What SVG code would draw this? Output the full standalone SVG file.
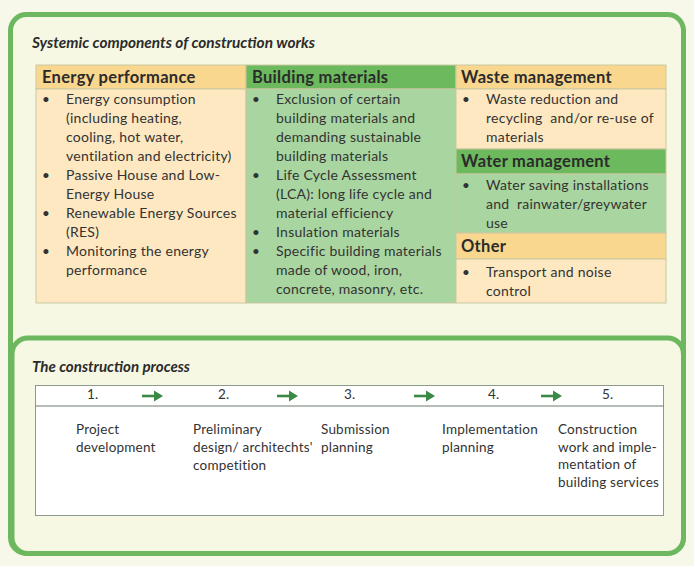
<svg xmlns="http://www.w3.org/2000/svg" width="694" height="566" viewBox="0 0 694 566">
<defs>
<style>
.frame{fill:#f6f8e4;stroke:#6db85f;stroke-width:5}
.title{font-family:Lato,"Open Sans",sans-serif;font-style:italic;font-weight:bold;font-size:15px;fill:#2b2b2b}
.hd{font-family:Lato,"Open Sans",sans-serif;font-weight:bold;font-size:16.5px;letter-spacing:0.3px;fill:#2b2b2b}
.tx{font-family:Lato,"Open Sans",sans-serif;font-size:14px;letter-spacing:0.25px;fill:#333}
.bu{font-family:Lato,"Open Sans",sans-serif;font-size:13.5px;fill:#333}
.oh{fill:#f9d78e}
.ob{fill:#fde8c1}
.gh{fill:#6cb95e}
.gb{fill:#a9d5a0}
.cell{stroke:#c9c7a0;stroke-width:1}
.ptx{font-family:Lato,"Open Sans",sans-serif;font-size:13.5px;letter-spacing:0.2px;fill:#333}
.arr{stroke:#3a8a45;stroke-width:2.6;fill:none}
.arrh{fill:#3a8a45}
.pre{white-space:pre}
</style>
</defs>
<rect width="694" height="566" fill="#f7f8ea"/>
<rect class="frame" x="10.5" y="14.5" width="673" height="539" rx="16"/>
<rect class="frame" x="12" y="338" width="671.5" height="215.5" rx="16"/>

<text class="title" x="32" y="48" textLength="283" lengthAdjust="spacingAndGlyphs">Systemic components of construction works</text>

<g id="energy">
<rect class="oh cell" x="36" y="65" width="210" height="24"/>
<rect class="ob cell" x="36" y="89" width="210" height="214"/>
<text class="hd" x="42" y="83">Energy performance</text>
<g class="bu"><text x="42" y="104">•</text><text x="42" y="180">•</text><text x="42" y="218">•</text><text x="42" y="256">•</text></g>
<g class="tx">
<text x="66" y="104">Energy consumption</text>
<text x="66" y="123">(including heating,</text>
<text x="66" y="142">cooling, hot water,</text>
<text x="66" y="161">ventilation and electricity)</text>
<text x="66" y="180">Passive House and Low-</text>
<text x="66" y="199">Energy House</text>
<text x="66" y="218">Renewable Energy Sources</text>
<text x="66" y="237">(RES)</text>
<text x="66" y="256">Monitoring the energy</text>
<text x="66" y="275">performance</text>
</g>
</g>

<g id="materials">
<rect class="gh cell" x="246" y="65" width="210" height="24"/>
<rect class="gb cell" x="246" y="89" width="210" height="214"/>
<text class="hd" x="252" y="83">Building materials</text>
<g class="bu"><text x="252" y="104">•</text><text x="252" y="180">•</text><text x="252" y="237">•</text><text x="252" y="256">•</text></g>
<g class="tx">
<text x="276" y="104">Exclusion of certain</text>
<text x="276" y="123">building materials and</text>
<text x="276" y="142">demanding sustainable</text>
<text x="276" y="161">building materials</text>
<text x="276" y="180">Life Cycle Assessment</text>
<text x="276" y="199">(LCA): long life cycle and</text>
<text x="276" y="218">material efficiency</text>
<text x="276" y="237">Insulation materials</text>
<text x="276" y="256">Specific building materials</text>
<text x="276" y="275">made of wood, iron,</text>
<text x="276" y="294">concrete, masonry, etc.</text>
</g>
</g>

<g id="waste">
<rect class="oh cell" x="456" y="65" width="210" height="24"/>
<rect class="ob cell" x="456" y="89" width="210" height="60"/>
<text class="hd" x="461" y="83">Waste management</text>
<text class="bu" x="462" y="104">•</text>
<g class="tx">
<text x="486" y="104">Waste reduction and</text>
<text class="pre" x="486" y="123">recycling  and/or re-use of</text>
<text x="486" y="142">materials</text>
</g>
</g>

<g id="water">
<rect class="gh cell" x="456" y="149" width="210" height="25"/>
<rect class="gb cell" x="456" y="174" width="210" height="59"/>
<text class="hd" x="461" y="167">Water management</text>
<text class="bu" x="462" y="190">•</text>
<g class="tx">
<text x="486" y="190">Water saving installations</text>
<text class="pre" x="486" y="209">and  rainwater/greywater</text>
<text x="486" y="228">use</text>
</g>
</g>

<g id="other">
<rect class="oh cell" x="456" y="233" width="210" height="26"/>
<rect class="ob cell" x="456" y="259" width="210" height="44"/>
<text class="hd" x="461" y="252">Other</text>
<text class="bu" x="462" y="277">•</text>
<g class="tx">
<text x="486" y="277">Transport and noise</text>
<text x="486" y="296">control</text>
</g>
</g>

<text class="title" x="32" y="372" textLength="158" lengthAdjust="spacingAndGlyphs">The construction process</text>

<g id="process-table">
<rect x="35.5" y="385.5" width="628" height="130" fill="#ffffff" stroke="#8e9a8e" stroke-width="1"/>
<line x1="35.5" y1="406" x2="663.5" y2="406" stroke="#6f7d6f" stroke-width="1.2"/>
</g>

<g id="step1"><text class="ptx" x="87" y="399">1.</text>
<text class="ptx" x="76" y="434">Project</text><text class="ptx" x="76" y="452">development</text></g>
<g id="step2"><text class="ptx" x="218" y="399">2.</text>
<text class="ptx" x="193" y="434">Preliminary</text><text class="ptx" x="193" y="452">design/ architechts'</text><text class="ptx" x="193" y="470">competition</text></g>
<g id="step3"><text class="ptx" x="344" y="399">3.</text>
<text class="ptx" x="321" y="434">Submission</text><text class="ptx" x="321" y="452">planning</text></g>
<g id="step4"><text class="ptx" x="488" y="399">4.</text>
<text class="ptx" x="442" y="434">Implementation</text><text class="ptx" x="442" y="452">planning</text></g>
<g id="step5"><text class="ptx" x="602" y="399">5.</text>
<text class="ptx" x="558" y="434">Construction</text><text class="ptx" x="558" y="451.5">work and imple-</text><text class="ptx" x="558" y="469">mentation of</text><text class="ptx" x="558" y="486.5">building services</text></g>

<g id="connectors">
<line class="arr" x1="142" y1="396" x2="156" y2="396"/><path class="arrh" d="M154,390.5 L163,396 L154,401.5 Z"/>
<line class="arr" x1="277" y1="396" x2="291" y2="396"/><path class="arrh" d="M289,390.5 L298,396 L289,401.5 Z"/>
<line class="arr" x1="414" y1="396" x2="428" y2="396"/><path class="arrh" d="M426,390.5 L435,396 L426,401.5 Z"/>
<line class="arr" x1="541" y1="396" x2="555" y2="396"/><path class="arrh" d="M553,390.5 L562,396 L553,401.5 Z"/>
</g>
</svg>
